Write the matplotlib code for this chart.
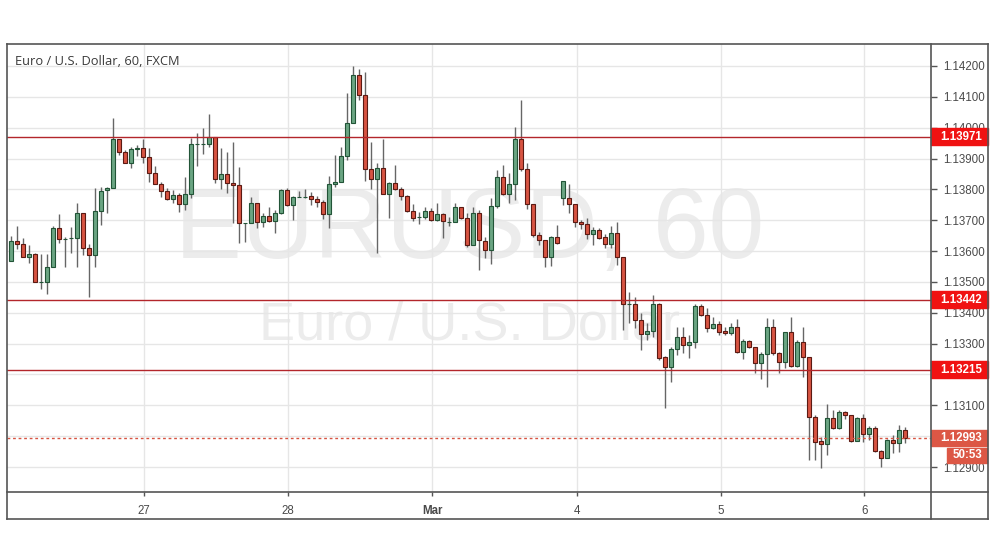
import numpy as np
import matplotlib
matplotlib.use("Agg")
import matplotlib.pyplot as plt
from matplotlib.patches import Rectangle
from matplotlib.lines import Line2D
import matplotlib.transforms as mtransforms

# hourly EUR/USD candles (FXCM)
opens = [1.13569, 1.13633, 1.13623, 1.13582, 1.13591, 1.13499, 1.13499, 1.13547, 1.13674, 1.13639,
         1.13641, 1.13641, 1.13722, 1.13609, 1.13586, 1.13731, 1.13797, 1.13803, 1.13962, 1.13920,
         1.13884, 1.13930, 1.13933, 1.13906, 1.13854, 1.13816, 1.13796, 1.13768, 1.13782, 1.13752,
         1.13784, 1.13948, 1.13948, 1.13948, 1.13970, 1.13833, 1.13849, 1.13820, 1.13813, 1.13690,
         1.13690, 1.13755, 1.13693, 1.13714, 1.13696, 1.13722, 1.13798, 1.13748, 1.13776, 1.13776,
         1.13779, 1.13768, 1.13758, 1.13719, 1.13816, 1.13825, 1.13909, 1.14014, 1.14171, 1.14105,
         1.13865, 1.13833, 1.13868, 1.13784, 1.13820, 1.13800, 1.13780, 1.13731, 1.13709, 1.13709,
         1.13731, 1.13701, 1.13720, 1.13695, 1.13695, 1.13742, 1.13706, 1.13619, 1.13722, 1.13634,
         1.13604, 1.13747, 1.13841, 1.13785, 1.13819, 1.13962, 1.13865, 1.13753, 1.13651, 1.13636,
         1.13580, 1.13646, 1.13771, 1.13771, 1.13752, 1.13693, 1.13687, 1.13654, 1.13667, 1.13646,
         1.13624, 1.13658, 1.13580, 1.13429, 1.13429, 1.13377, 1.13330, 1.13341, 1.13429, 1.13256,
         1.13223, 1.13282, 1.13321, 1.13294, 1.13304, 1.13423, 1.13393, 1.13350, 1.13364, 1.13341,
         1.13333, 1.13353, 1.13274, 1.13309, 1.13288, 1.13236, 1.13266, 1.13353, 1.13269, 1.13242,
         1.13337, 1.13229, 1.13306, 1.13258, 1.13061, 1.12985, 1.12974, 1.13058, 1.13026, 1.13077,
         1.13069, 1.12986, 1.13058, 1.13006, 1.13026, 1.12952, 1.12928, 1.12988, 1.12977, 1.13020]
highs = [1.13649, 1.13681, 1.13641, 1.13620, 1.13595, 1.13590, 1.13591, 1.13681, 1.13720, 1.13647,
         1.13679, 1.13757, 1.13725, 1.13624, 1.13803, 1.13809, 1.13809, 1.14031, 1.13964, 1.13928,
         1.13936, 1.13943, 1.13963, 1.13933, 1.13876, 1.13823, 1.13806, 1.13798, 1.13787, 1.13839,
         1.13966, 1.13982, 1.13998, 1.14043, 1.13970, 1.13934, 1.13921, 1.13955, 1.13872, 1.13690,
         1.13774, 1.13757, 1.13722, 1.13744, 1.13733, 1.13800, 1.13803, 1.13779, 1.13796, 1.13800,
         1.13793, 1.13777, 1.13766, 1.13843, 1.13912, 1.13936, 1.14111, 1.14201, 1.14189, 1.14179,
         1.13955, 1.13884, 1.13963, 1.13825, 1.13878, 1.13809, 1.13782, 1.13753, 1.13728, 1.13744,
         1.13739, 1.13755, 1.13722, 1.13712, 1.13755, 1.13744, 1.13722, 1.13744, 1.13733, 1.13647,
         1.13771, 1.13863, 1.13879, 1.13852, 1.14003, 1.14090, 1.13887, 1.13753, 1.13663, 1.13636,
         1.13650, 1.13685, 1.13827, 1.13818, 1.13752, 1.13701, 1.13706, 1.13679, 1.13674, 1.13655,
         1.13681, 1.13693, 1.13580, 1.13469, 1.13452, 1.13398, 1.13368, 1.13458, 1.13431, 1.13260,
         1.13290, 1.13355, 1.13355, 1.13328, 1.13429, 1.13429, 1.13415, 1.13385, 1.13375, 1.13355,
         1.13366, 1.13379, 1.13314, 1.13312, 1.13290, 1.13274, 1.13382, 1.13379, 1.13274, 1.13339,
         1.13387, 1.13312, 1.13355, 1.13258, 1.13069, 1.12996, 1.13103, 1.13085, 1.13085, 1.13083,
         1.13069, 1.13063, 1.13071, 1.13033, 1.13033, 1.12955, 1.12990, 1.13004, 1.13036, 1.13031]
lows = [1.13567, 1.13607, 1.13580, 1.13562, 1.13499, 1.13478, 1.13460, 1.13547, 1.13625, 1.13547,
        1.13593, 1.13547, 1.13587, 1.13452, 1.13547, 1.13685, 1.13725, 1.13803, 1.13910, 1.13884,
        1.13868, 1.13908, 1.13884, 1.13824, 1.13816, 1.13776, 1.13766, 1.13755, 1.13728, 1.13733,
        1.13771, 1.13876, 1.13915, 1.13936, 1.13822, 1.13802, 1.13787, 1.13690, 1.13627, 1.13631,
        1.13690, 1.13674, 1.13679, 1.13693, 1.13658, 1.13720, 1.13746, 1.13701, 1.13774, 1.13771,
        1.13748, 1.13744, 1.13703, 1.13674, 1.13809, 1.13825, 1.13895, 1.14014, 1.14090, 1.13828,
        1.13800, 1.13595, 1.13784, 1.13706, 1.13798, 1.13766, 1.13728, 1.13699, 1.13688, 1.13703,
        1.13698, 1.13698, 1.13641, 1.13682, 1.13693, 1.13703, 1.13614, 1.13619, 1.13539, 1.13577,
        1.13558, 1.13739, 1.13782, 1.13755, 1.13766, 1.13858, 1.13735, 1.13647, 1.13619, 1.13550,
        1.13552, 1.13623, 1.13749, 1.13722, 1.13677, 1.13671, 1.13638, 1.13620, 1.13638, 1.13609,
        1.13609, 1.13555, 1.13344, 1.13366, 1.13350, 1.13279, 1.13312, 1.13323, 1.13247, 1.13090,
        1.13177, 1.13263, 1.13269, 1.13252, 1.13285, 1.13388, 1.13339, 1.13346, 1.13328, 1.13328,
        1.13328, 1.13271, 1.13249, 1.13285, 1.13204, 1.13184, 1.13161, 1.13263, 1.13204, 1.13220,
        1.13225, 1.13225, 1.13193, 1.12923, 1.12923, 1.12896, 1.12939, 1.13022, 1.13023, 1.13055,
        1.12982, 1.12986, 1.12982, 1.12988, 1.12950, 1.12899, 1.12928, 1.12945, 1.12950, 1.12979]
closes = [1.13633, 1.13622, 1.13582, 1.13591, 1.13499, 1.13500, 1.13547, 1.13674, 1.13638, 1.13639,
          1.13641, 1.13722, 1.13609, 1.13586, 1.13731, 1.13796, 1.13805, 1.13962, 1.13920, 1.13884,
          1.13930, 1.13934, 1.13906, 1.13854, 1.13816, 1.13796, 1.13768, 1.13782, 1.13752, 1.13784,
          1.13946, 1.13948, 1.13948, 1.13970, 1.13833, 1.13849, 1.13820, 1.13813, 1.13690, 1.13690,
          1.13755, 1.13693, 1.13714, 1.13696, 1.13722, 1.13798, 1.13748, 1.13775, 1.13776, 1.13776,
          1.13768, 1.13758, 1.13719, 1.13816, 1.13825, 1.13909, 1.14014, 1.14171, 1.14105, 1.13865,
          1.13833, 1.13868, 1.13784, 1.13820, 1.13800, 1.13780, 1.13731, 1.13706, 1.13709, 1.13731,
          1.13701, 1.13720, 1.13696, 1.13695, 1.13742, 1.13706, 1.13619, 1.13722, 1.13636, 1.13604,
          1.13747, 1.13841, 1.13785, 1.13819, 1.13962, 1.13865, 1.13753, 1.13651, 1.13636, 1.13580,
          1.13646, 1.13627, 1.13827, 1.13752, 1.13693, 1.13687, 1.13654, 1.13667, 1.13644, 1.13624,
          1.13658, 1.13580, 1.13429, 1.13429, 1.13377, 1.13331, 1.13341, 1.13429, 1.13255, 1.13223,
          1.13282, 1.13321, 1.13294, 1.13304, 1.13423, 1.13393, 1.13350, 1.13364, 1.13339, 1.13333,
          1.13353, 1.13274, 1.13309, 1.13288, 1.13236, 1.13266, 1.13353, 1.13269, 1.13242, 1.13337,
          1.13229, 1.13306, 1.13258, 1.13061, 1.12982, 1.12974, 1.13058, 1.13026, 1.13077, 1.13069,
          1.12986, 1.13058, 1.13006, 1.13026, 1.12952, 1.12928, 1.12988, 1.12977, 1.13020, 1.12993]

day_ticks = [22.2, 46.2, 70.2, 94.3, 118.3, 142.2]
day_labels = ["27", "28", "Mar", "4", "5", "6"]
price_ticks = [1.129 + 0.001 * i for i in range(14)]
levels = [1.13971, 1.13442, 1.13215]
last_price = 1.12993
countdown = "50:53"
title = "Euro / U.S. Dollar, 60, FXCM"

W, H = 995, 556
fig = plt.figure(figsize=(W / 100, H / 100), dpi=100)
fig.patch.set_facecolor("white")

# plot area in pixels: x 7..931, y 43.5..492
L, R, T, B = 7, 931, 43.5, 492
ax = fig.add_axes([L / W, 1 - B / H, (R - L) / W, (B - T) / H], zorder=1)
ax.set_xlim(-0.667, -0.667 + (R - L) / 6.0)
ax.set_ylim(1.128191, 1.142729)

o = np.array(opens); h = np.array(highs); l = np.array(lows); c = np.array(closes)
x = np.arange(len(o))
up = c >= o
bot = np.minimum(o, c)
hgt = np.maximum(np.abs(c - o), 0.000004)

ax.vlines(x, l, h, color="#666666", lw=1, zorder=2)
ax.bar(x[up], hgt[up], bottom=bot[up], width=0.62, color="#6ba583",
       edgecolor="#225437", lw=0.8, zorder=3)
ax.bar(x[~up], hgt[~up], bottom=bot[~up], width=0.62, color="#d75442",
       edgecolor="#5b1a13", lw=0.8, zorder=3)

# watermark
ax.text(0.501, 0.58, "EURUSD, 60", transform=ax.transAxes, ha="center", va="center",
        fontsize=72, color="#ececec", family="Liberation Sans", zorder=0)
ax.text(0.501, 0.372, "Euro / U.S. Dollar", transform=ax.transAxes, ha="center", va="center",
        fontsize=39, color="#ececec", family="Liberation Sans", zorder=0)
ax.text(8 / (R - L), 1 - (61.5 - T) / (B - T), title, transform=ax.transAxes,
        ha="left", va="center", fontsize=9.3, color="#3a3a3a", family="Open Sans", zorder=6)

# grid + ticks
ax.set_xticks(day_ticks)
ax.set_xticklabels(day_labels)
ax.set_yticks(price_ticks)
ax.set_yticklabels(["%.5f" % p for p in price_ticks])
ax.yaxis.tick_right()
ax.grid(True, color="#e6e6e6", lw=1, zorder=0)
ax.set_axisbelow(True)
ax.tick_params(axis="y", direction="out", length=4, width=1, pad=5, colors="#555555",
               labelsize=8.3)
ax.tick_params(axis="x", direction="out", length=3, width=1, pad=6, colors="#555555",
               labelsize=8.3)
for lab in ax.get_yticklabels() + ax.get_xticklabels():
    lab.set_family("Liberation Sans")
    lab.set_color("#4a4a4a")
ax.get_xticklabels()[2].set_fontweight("bold")
for s in ax.spines.values():
    s.set_visible(False)

# horizontal levels with labels on the price scale
blend = mtransforms.blended_transform_factory(ax.transAxes, ax.transData)
ppx = (1.142729 - 1.128191) / (B - T)
bw = 57.0 / (R - L)
for lv in levels:
    ax.axhline(lv, color="#b3262b", lw=1, zorder=4)
    ax.add_patch(Rectangle((1.0, lv - 8.5 * ppx), bw, 17 * ppx, transform=blend,
                           color="#f01212", clip_on=False, zorder=7))
    ax.text(1.0 + 9.5 / (R - L), lv, "%.5f" % lv, transform=blend, ha="left", va="center",
            fontsize=8.3, fontweight="bold", color="white", family="Liberation Sans",
            clip_on=False, zorder=8)

ax.axhline(last_price, color="#d75442", lw=1, ls=(0, (2, 2)), zorder=4)
ax.add_patch(Rectangle((1.0, last_price - 8 * ppx), 56.0 / (R - L), 16 * ppx, transform=blend,
                       color="#dc5745", clip_on=False, zorder=7))
ax.text(1.0 + 9.5 / (R - L), last_price, "%.5f" % last_price, transform=blend, ha="left",
        va="center", fontsize=8.3, fontweight="bold", color="white", family="Liberation Sans",
        clip_on=False, zorder=8)
cd_y = last_price - 17 * ppx
ax.add_patch(Rectangle((1.0 + 16.0 / (R - L), cd_y - 7.5 * ppx), 40.0 / (R - L), 15 * ppx,
                       transform=blend, color="#dc5745", clip_on=False, zorder=7))
ax.text(1.0 + 36.0 / (R - L), cd_y, countdown, transform=blend, ha="center", va="center",
        fontsize=8.3, fontweight="bold", color="white", family="Liberation Sans",
        clip_on=False, zorder=8)

# outer frame and separators
fr = fig.add_axes([0, 0, 1, 1], zorder=9)
fr.set_xlim(0, W)
fr.set_ylim(H, 0)
fr.axis("off")
fr.patch.set_alpha(0)
edge = dict(color="#555555", lw=1.2)
fr.add_line(Line2D([L, 988], [T, T], **edge))
fr.add_line(Line2D([L, 988], [519, 519], **edge))
fr.add_line(Line2D([L, L], [T, 519], **edge))
fr.add_line(Line2D([988, 988], [T, 519], **edge))
fr.add_line(Line2D([R, R], [T, 519], **edge))
fr.add_line(Line2D([L, 988], [B, B], **edge))

fig.savefig("out.png", dpi=100)
